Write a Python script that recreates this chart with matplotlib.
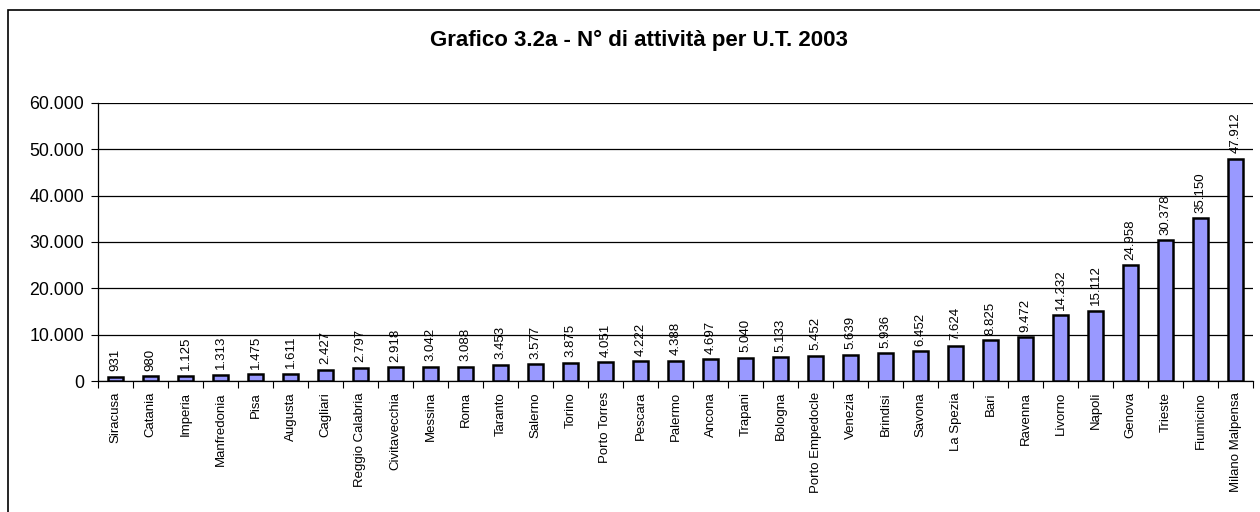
import matplotlib
matplotlib.use("Agg")
import matplotlib.pyplot as plt
from matplotlib.patches import Rectangle
from matplotlib.ticker import FuncFormatter, FixedLocator, NullFormatter

plt.rcParams['font.family'] = ['Liberation Sans', 'DejaVu Sans']

categories = ["Siracusa", "Catania", "Imperia", "Manfredonia", "Pisa", "Augusta",
              "Cagliari", "Reggio Calabria", "Civitavecchia", "Messina", "Roma",
              "Taranto", "Salerno", "Torino", "Porto Torres", "Pescara", "Palermo",
              "Ancona", "Trapani", "Bologna", "Porto Empedocle", "Venezia", "Brindisi",
              "Savona", "La Spezia", "Bari", "Ravenna", "Livorno", "Napoli", "Genova",
              "Trieste", "Fiumicino", "Milano Malpensa"]
values = [931, 980, 1125, 1313, 1475, 1611, 2427, 2797, 2918, 3042, 3088, 3453,
          3577, 3875, 4051, 4222, 4388, 4697, 5040, 5133, 5452, 5639, 5936, 6452,
          7624, 8825, 9472, 14232, 15112, 24958, 30378, 35150, 47912]
title = "Grafico 3.2a - N° di attività per U.T. 2003"


def it_num(v, pos=None):
    return f"{int(v):,}".replace(",", ".")


fig = plt.figure(figsize=(12.6, 5.12), dpi=100)
fig.patch.set_facecolor("white")

# outer chart frame
fig.patches.append(Rectangle((8 / 1260, -0.05), 1.1, 1 - 10 / 512 + 0.05,
                             transform=fig.transFigure, fill=False,
                             edgecolor="black", linewidth=1.2))

ax = fig.add_axes([98 / 1260, 1 - 381 / 512, (1253 - 98) / 1260, (381 - 103) / 512])
x = list(range(len(categories)))
ax.bar(x, values, width=0.42, color="#9999FF", edgecolor="black", linewidth=1.8, zorder=3)

ax.set_xlim(-0.5, len(categories) - 0.5)
ax.set_ylim(0, 60000)
ax.set_yticks(range(0, 60001, 10000))
ax.yaxis.set_major_formatter(FuncFormatter(it_num))
ax.tick_params(axis="y", direction="out", length=5, width=0.8, labelsize=12.8, pad=5)
ax.grid(axis="y", color="black", linewidth=0.9, zorder=0)

ax.xaxis.set_major_locator(FixedLocator([i - 0.5 for i in range(len(categories) + 1)]))
ax.xaxis.set_major_formatter(NullFormatter())
ax.tick_params(axis="x", which="major", direction="out", length=5, width=0.8)
ax.set_xticks(x, minor=True)
ax.set_xticklabels(categories, minor=True, rotation=90, fontsize=9.5)
ax.tick_params(axis="x", which="minor", length=0, pad=8)

for s in ("top", "right"):
    ax.spines[s].set_visible(False)
ax.spines["left"].set_linewidth(0.9)
ax.spines["bottom"].set_linewidth(0.9)

for xi, v in zip(x, values):
    ax.annotate(it_num(v), (xi, v), xytext=(0, 4), textcoords="offset points",
                rotation=90, ha="center", va="bottom", fontsize=9.5, zorder=4)

fig.text(639 / 1260, 1 - 40 / 512, title, ha="center", va="center",
         fontsize=16, fontweight="bold")

fig.savefig("out.png", dpi=100, facecolor="white")
